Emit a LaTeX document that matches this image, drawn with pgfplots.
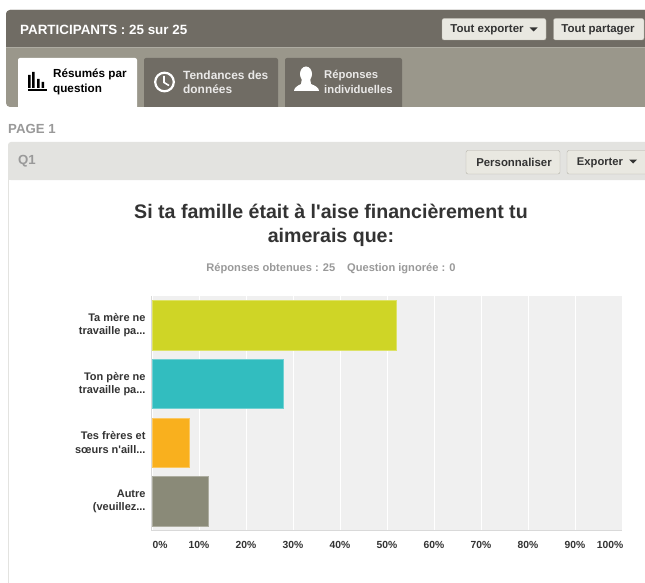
\documentclass[border=0pt]{standalone}
\usepackage{fontspec}
\setmainfont{Liberation Sans}[Ligatures=TeXOff]
\usepackage{pgfplots}
\pgfplotsset{compat=1.18}
\definecolor{hdark}{HTML}{706C64}
\definecolor{hmid}{HTML}{9A978B}
\definecolor{qband}{HTML}{E3E3E0}
\definecolor{btn}{HTML}{E9E8E1}
\definecolor{btnb}{HTML}{B5B3A9}
\definecolor{gtxt}{HTML}{999999}
\definecolor{txt}{HTML}{333333}
\definecolor{plotbg}{HTML}{F0F0F0}
\definecolor{cA}{HTML}{CFD526}
\definecolor{cB}{HTML}{32BDBF}
\definecolor{cC}{HTML}{F9B01E}
\definecolor{cD}{HTML}{8A8A78}
\newcommand{\fs}[1]{\fontsize{#1}{#1}\selectfont\bfseries}
\newcommand{\dd}{.{}.{}.}
\begin{document}
\begin{tikzpicture}[x=1pt,y=-1pt,inner sep=0pt]
\path[use as bounding box,fill=white] (0,0) rectangle (645,583);
\begin{scope}
\clip (0,0) rectangle (645,583);
% header
\fill[hmid,rounded corners=4pt] (6,10) rectangle (660,107);
\fill[hdark,rounded corners=4pt] (6,10) rectangle (660,30);
\fill[hdark] (6,20) rectangle (660,47);
\draw[hmid!80!white,line width=1pt] (6,47.5) -- (645,47.5);
\node[anchor=west,text=white] at (20,29.5) {\fs{13.4}PARTICIPANTS : 25 sur 25};
\fill[btn,draw=btnb,rounded corners=2pt] (442,18.5) rectangle (546,40);
\node[text=txt] at (487,30) {\fs{11.5}Tout exporter};
\fill[txt] (529.5,27.5) -- (537.5,27.5) -- (533.5,31.5) -- cycle;
\fill[btn,draw=btnb,rounded corners=2pt] (553.5,18.5) rectangle (644,40);
\node[text=txt] at (598,30) {\fs{11.5}Tout partager};
% tabs
\fill[white,rounded corners=2pt] (18,58) rectangle (137,112);
\fill[hdark,rounded corners=2pt] (144,58) rectangle (278,112);
\fill[hdark,rounded corners=2pt] (285,58) rectangle (402,112);
\fill[white] (0,107) rectangle (645,115);
\node[anchor=west,align=left,text=black,font=\fontsize{11.7}{14.5}\selectfont\bfseries] at (53,82) {Résumés par\\question};
\node[anchor=west,align=left,text=white!85!hdark,font=\fontsize{11.9}{14.5}\selectfont\bfseries] at (183,82) {Tendances des\\données};
\node[anchor=west,align=left,text=white!85!hdark,font=\fontsize{11.3}{14.5}\selectfont\bfseries] at (324,82) {Réponses\\individuelles};
% icons
\fill[black] (28,75) rectangle (30.5,88) (32,72) rectangle (34.5,88) (37,79) rectangle (39.5,88) (41.5,82) rectangle (44,88);
\fill[black] (28,89.5) rectangle (47,91);
\draw[white,line width=2.2pt] (164.5,82) circle (9.3);
\draw[white,line width=1.6pt] (164,76) -- (164,82.5) -- (169,85.5);
\fill[white] (306,74) ellipse (6 and 7.5);
\fill[white] (302,78) -- (310,78) -- (311,84) .. controls (316,86) and (319,88) .. (319,91) -- (294,91) .. controls (294,88) and (297,86) .. (301,84) -- cycle;
% page
\node[anchor=west,text=gtxt] at (8,128.5) {\fs{13.2}PAGE 1};
\draw[qband,line width=1pt] (8.5,180) -- (8.5,583);
\fill[qband,rounded corners=3pt] (8,142) rectangle (660,180);
\fill[qband] (8,160) rectangle (660,180);
\node[anchor=west,text=gtxt] at (18,161.5) {\fs{13.2}Q1};
\fill[btn,draw=btnb,rounded corners=2pt] (466,150.5) rectangle (560,174);
\node[text=txt] at (514,162.5) {\fs{11.4}Personnaliser};
\fill[btn,draw=btnb,rounded corners=2pt] (567,150.5) rectangle (650,174);
\node[text=txt] at (600,162.5) {\fs{11.2}Exporter};
\fill[txt] (629,159.5) -- (637,159.5) -- (633,163.5) -- cycle;
\end{scope}
% titles
\node[text=txt,align=center,font=\fontsize{19.6}{24}\selectfont\bfseries] at (331,225.5) {Si ta famille était à l'aise financièrement tu\\aimerais que:};
\node[text=gtxt] at (331,269) {\fs{11.1}Réponses obtenues : 25\hspace{12pt}Question ignorée : 0};
% chart
\begin{axis}[
  at={(152pt,-296pt)},anchor=north west,
  width=470pt,height=234.5pt,scale only axis,
  xmin=0,xmax=100,ymin=-0.5,ymax=3.5,y dir=reverse,
  xbar,bar width=49.5pt,
  axis background/.style={fill=plotbg},
  axis line style={draw=none},
  axis x line*=bottom,axis y line*=left,
  xtick={0,10,20,30,40,50,60,70,80,90,100},
  xticklabels={\hspace*{16pt}0\%,10\%,20\%,30\%,40\%,50\%,60\%,70\%,80\%,90\%,100\%\hspace*{24pt}},
  ytick={0,1,2,3},
  yticklabels={{Ta mère ne\\travaille pa\dd},{Ton père ne\\travaille pa\dd},{Tes frères et\\sœurs n'aill\dd},{Autre\\(veuillez\dd}},
  tick style={draw=none},
  xmajorgrids,
  major grid style={white,line width=1pt},
  x tick label style={font=\fs{10.3},text=txt,yshift=-11pt},
  y tick label style={font=\fontsize{11}{13.5}\selectfont\bfseries,text=txt,align=right,xshift=-2pt},
  clip=false,
]
\addplot[bar shift=0pt,fill=cA,draw=cA!70!white] coordinates {(52,0)};
\addplot[bar shift=0pt,fill=cB,draw=cB!70!white] coordinates {(28,1)};
\addplot[bar shift=0pt,fill=cC,draw=cC!70!white] coordinates {(8,2)};
\addplot[bar shift=0pt,fill=cD,draw=cD!70!white] coordinates {(12,3)};
\end{axis}
\draw[black!15,line width=1.5pt] (151.5,296) -- (151.5,530.5) -- (622,530.5);
\end{tikzpicture}
\end{document}
